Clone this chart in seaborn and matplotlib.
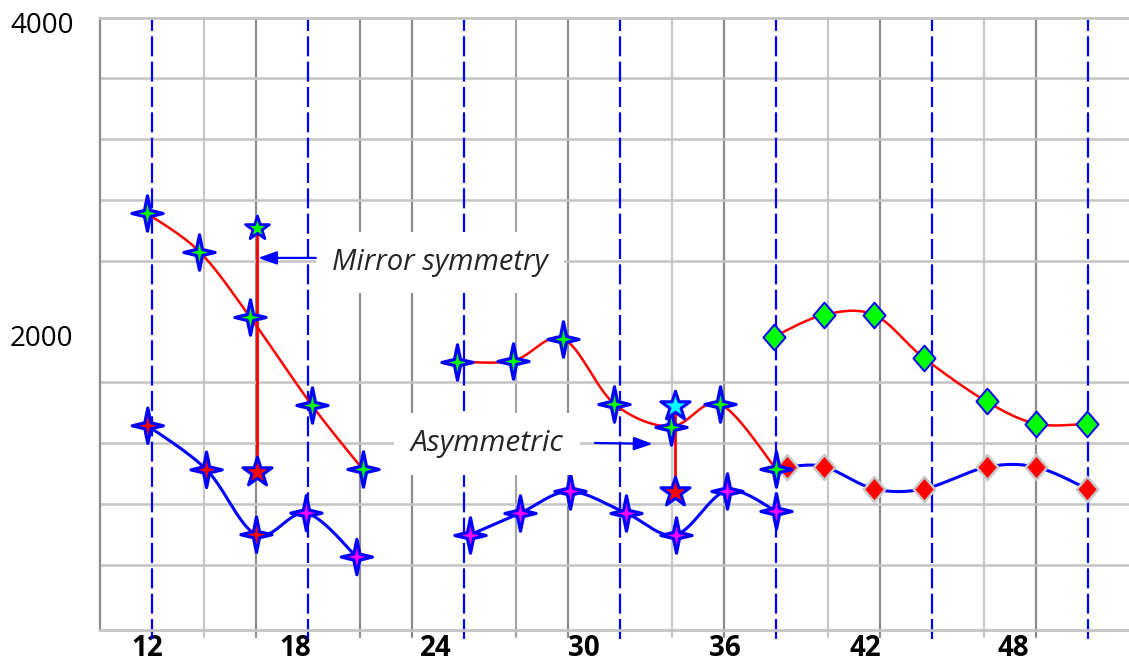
import numpy as np
import matplotlib.pyplot as plt
import seaborn as sns
from matplotlib.path import Path
from matplotlib.transforms import ScaledTranslation

# ---- data (x in grid units, y in value units) ----
seg1_top_x = [0.90, 1.91, 2.88, 4.07, 5.05]
seg1_top_y = [2713, 2461, 2033, 1452, 1029]
seg1_bot_x = [0.92, 2.05, 3.01, 3.97, 4.94]
seg1_bot_y = [1314, 1024, 597, 739, 450]
seg1_bot_fill = ['#ff0000', '#ff0000', '#ff0000', '#ff00ff', '#ff00ff']
mirror_x = [3.02, 3.02]
mirror_y = [2618, 1013]

seg2_top_x = [6.87, 7.95, 8.91, 9.89, 10.98, 11.92, 13.0]
seg2_top_y = [1737, 1742, 1886, 1459, 1309, 1457, 1031]
seg2_bot_x = [7.12, 8.08, 9.03, 10.12, 11.07, 12.05, 13.01]
seg2_bot_y = [597, 739, 882, 739, 597, 886, 750]
asym_x = [11.05, 11.05]
asym_y = [1445, 875]

seg3_top_x = [12.96, 13.92, 14.89, 15.85, 17.05, 18.01, 18.99]
seg3_top_y = [1901, 2044, 2044, 1759, 1474, 1327, 1327]
seg3_bot_x = [13.21, 13.92, 14.89, 15.85, 17.05, 18.01, 18.99]
seg3_bot_y = [1042, 1046, 899, 899, 1042, 1042, 899]

x_tick_labels = ['12', '18', '24', '30', '36', '42', '48']
x_tick_pos = [0.90, 3.75, 6.46, 9.31, 12.02, 14.71, 17.56]
y_tick_labels = ['2000', '4000']
y_tick_vals = [2000, 4000]

grid_u = [2, 3, 5, 6, 8, 9, 11, 12, 14, 15, 17, 18]
grid_shade = ['#c8c8c8', '#8c8c8c', '#8c8c8c', '#8c8c8c', '#a4a4a4', '#8c8c8c',
              '#c8c8c8', '#8c8c8c', '#c8c8c8', '#8c8c8c', '#c8c8c8', '#8c8c8c']
dash_u = [1, 4, 7, 10, 13, 16, 19]


def smooth(xs, ys, n=30):
    # Catmull-Rom curve through the points (spreadsheet style smoothed line)
    p = np.column_stack([xs, ys]).astype(float)
    p = np.vstack([p[0], p, p[-1]])
    t = np.linspace(0, 1, n)[:, None]
    out = []
    for i in range(len(p) - 3):
        p0, p1, p2, p3 = p[i], p[i + 1], p[i + 2], p[i + 3]
        seg = 0.5 * (2 * p1 + (-p0 + p2) * t
                     + (2 * p0 - 5 * p1 + 4 * p2 - p3) * t ** 2
                     + (-p0 + 3 * p1 - 3 * p2 + p3) * t ** 3)
        out.append(seg if i == 0 else seg[1:])
    return np.vstack(out)


w = 0.17
star4 = Path([(0, 1), (w, w), (0.88, 0), (w, -w), (0, -1), (-w, -w), (-0.88, 0), (-w, w), (0, 1)],
             [Path.MOVETO] + [Path.LINETO] * 7 + [Path.CLOSEPOLY])
diamond = Path([(0, 1), (0.86, 0), (0, -1), (-0.86, 0), (0, 1)],
               [Path.MOVETO] + [Path.LINETO] * 3 + [Path.CLOSEPOLY])

sns.set_theme(style='white')
plt.rcParams['font.family'] = ['Open Sans', 'DejaVu Sans']

fig = plt.figure(figsize=(11.29, 6.62), dpi=100)
ax = fig.add_axes([100 / 1129, 1 - 630 / 662, 1029 / 1129, (630 - 17.7) / 662])
ax.set_xlim(0, 19.79)
ax.set_ylim(-30, 4000)

# grid
ax.set_yticks(np.arange(400, 4000, 400), minor=True)
ax.grid(which='minor', axis='y', color='#c4c4c4', lw=1.8, zorder=0)
ax.grid(which='major', axis='both', visible=False)
for u, c in zip(grid_u, grid_shade):
    ax.axvline(u, ymin=-0.012, ymax=1, color=c, lw=1.6, zorder=0.5, clip_on=False)
for u in dash_u:
    ax.axvline(u, ymin=-0.015, ymax=1, color='#0000ff', lw=1.6, dashes=(9, 2.4),
               zorder=0.6, clip_on=False)

ax.spines['right'].set_visible(False)
ax.spines['left'].set_color('#8c8c8c')
ax.spines['left'].set_linewidth(1.6)
for side in ['top', 'bottom']:
    ax.spines[side].set_color('#c4c4c4')
    ax.spines[side].set_linewidth(2.0)

# smoothed lines
for xs, ys, col, lw in [(seg1_top_x, seg1_top_y, '#ff0000', 1.8),
                        (seg1_bot_x, seg1_bot_y, '#0000ff', 2.2),
                        (seg2_top_x, seg2_top_y, '#ff0000', 1.8),
                        (seg2_bot_x, seg2_bot_y, '#0000ff', 2.2),
                        (seg3_top_x, seg3_top_y, '#ff0000', 1.8),
                        (seg3_bot_x, seg3_bot_y, '#0000ff', 2.2)]:
    c = smooth(xs, ys)
    sns.lineplot(x=c[:, 0], y=c[:, 1], sort=False, estimator=None, color=col,
                 lw=lw, ax=ax, zorder=2)

# vertical connectors
sns.lineplot(x=mirror_x, y=mirror_y, sort=False, estimator=None, color='#ff0000', lw=2.0, ax=ax, zorder=2)
sns.lineplot(x=asym_x, y=asym_y, sort=False, estimator=None, color='#ff0000', lw=2.0, ax=ax, zorder=2)

# markers
sns.scatterplot(x=seg3_bot_x, y=seg3_bot_y, marker=diamond, s=18 ** 2, color='#ff0000',
                edgecolor='#c8c8c8', linewidth=1.8, ax=ax, zorder=3)
sns.scatterplot(x=seg3_top_x, y=seg3_top_y, marker=diamond, s=18.5 ** 2, color='#00ff00',
                edgecolor='#0000ff', linewidth=1.4, ax=ax, zorder=3)
for xs, ys in [(seg1_top_x, seg1_top_y), (seg2_top_x, seg2_top_y)]:
    sns.scatterplot(x=xs, y=ys, marker=star4, s=25.5 ** 2, color='#00ff00',
                    edgecolor='#0000ff', linewidth=2.3, ax=ax, zorder=4)
sns.scatterplot(x=seg1_bot_x, y=seg1_bot_y, marker=star4, s=25.5 ** 2, hue=seg1_bot_x,
                palette=dict(zip(seg1_bot_x, seg1_bot_fill)), legend=False,
                edgecolor='#0000ff', linewidth=2.3, ax=ax, zorder=4)
sns.scatterplot(x=seg2_bot_x, y=seg2_bot_y, marker=star4, s=25.5 ** 2, color='#ff00ff',
                edgecolor='#0000ff', linewidth=2.3, ax=ax, zorder=4)

sns.scatterplot(x=mirror_x[:1], y=mirror_y[:1], marker='*', s=18 ** 2, color='#00ff00',
                edgecolor='#0000ff', linewidth=2.0, ax=ax, zorder=5)
sns.scatterplot(x=mirror_x[1:], y=mirror_y[1:], marker='*', s=22 ** 2, color='#ff0000',
                edgecolor='#0000ff', linewidth=2.2, ax=ax, zorder=5)
sns.scatterplot(x=asym_x[:1], y=asym_y[:1], marker='*', s=22 ** 2, color='#00ffff',
                edgecolor='#0000ff', linewidth=2.2, ax=ax, zorder=5)
sns.scatterplot(x=asym_x[1:], y=asym_y[1:], marker='*', s=22 ** 2, color='#ff0000',
                edgecolor='#0000ff', linewidth=2.2, ax=ax, zorder=5)

# annotations
box = dict(boxstyle='square,pad=0.55', fc='white', ec='none')
ax.text(6.54, 2386, 'Mirror symmetry', fontsize=21, fontstyle='italic', ha='center',
        va='center', bbox=box, zorder=6)
ax.text(7.44, 1195, 'Asymmetric', fontsize=21.5, fontstyle='italic', ha='center',
        va='center', bbox=box, zorder=6)
arrow = dict(arrowstyle='-|>,head_length=0.7,head_width=0.25', color='#0000ff', lw=1.6,
             mutation_scale=16, shrinkA=0, shrinkB=0)
ax.annotate('', xy=(3.04, 2419), xytext=(4.15, 2419), arrowprops=arrow, zorder=7)
ax.annotate('', xy=(10.63, 1195), xytext=(9.52, 1201), arrowprops=arrow, zorder=7)

# ticks
ax.set_xticks(x_tick_pos)
ax.set_xticklabels(x_tick_labels, fontsize=20, fontweight='bold', color='black')
ax.set_yticks(y_tick_vals)
ax.set_yticklabels(y_tick_labels, fontsize=20, color='black')
ax.tick_params(axis='both', which='both', length=0)
ax.tick_params(axis='x', pad=3)
ax.tick_params(axis='y', pad=19)
for lab, dy in zip(ax.get_yticklabels(), [14, 5]):
    lab.set_transform(lab.get_transform() + ScaledTranslation(0, -dy / 100, fig.dpi_scale_trans))

fig.savefig('out.png', dpi=100)
